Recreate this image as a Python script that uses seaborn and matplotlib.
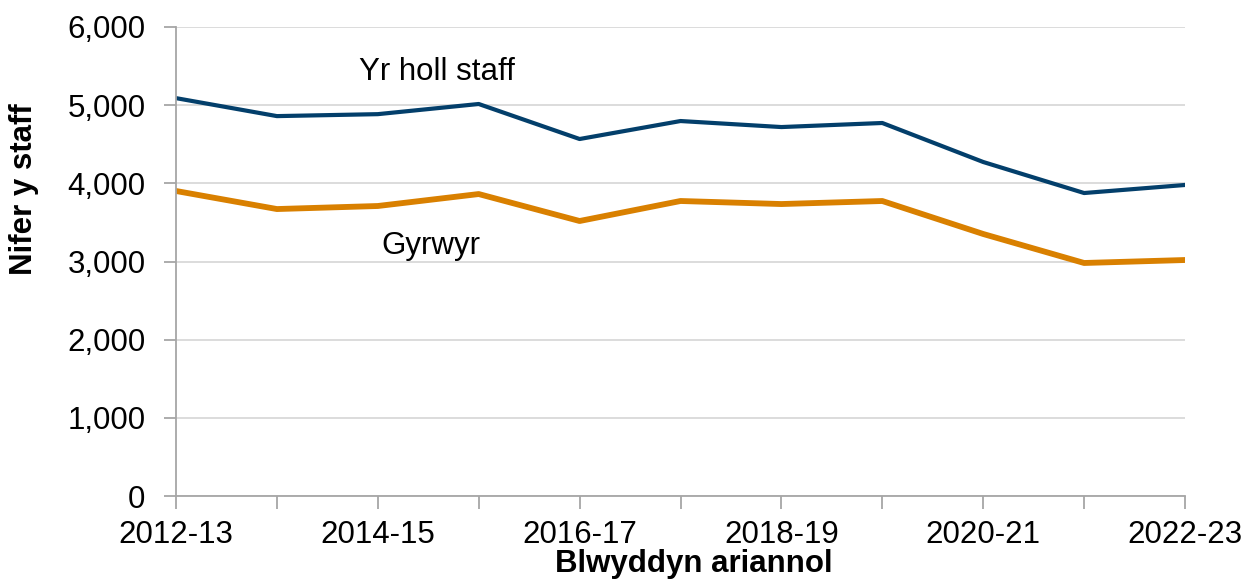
import matplotlib
matplotlib.use("Agg")
import matplotlib.pyplot as plt
import seaborn as sns
import pandas as pd
from matplotlib.ticker import FuncFormatter, MultipleLocator

years = ["2012-13", "2013-14", "2014-15", "2015-16", "2016-17", "2017-18",
         "2018-19", "2019-20", "2020-21", "2021-22", "2022-23"]
all_staff = [5090, 4860, 4885, 5015, 4567, 4797, 4720, 4772, 4273, 3876, 3979]
drivers = [3902, 3671, 3710, 3863, 3518, 3774, 3735, 3774, 3352, 2981, 3019]
series_names = ["Yr holl staff", "Gyrwyr"]
tick_labels = ["2012-13", "", "2014-15", "", "2016-17", "", "2018-19", "", "2020-21", "", "2022-23"]

sns.set_theme(style="white")
plt.rcParams["font.family"] = ["Liberation Sans", "DejaVu Sans"]
plt.rcParams["text.color"] = "black"
plt.rcParams["axes.labelcolor"] = "black"
FS = 22.5

df = pd.DataFrame({
    "idx": list(range(len(years))) * 2,
    "value": all_staff + drivers,
    "series": [series_names[0]] * len(years) + [series_names[1]] * len(years),
})

fig = plt.figure(figsize=(12.52, 5.86), dpi=100)
ax = fig.add_axes([176/1252, 1 - 496/586, (1185-176)/1252, (496-27)/586])

colors = {"Yr holl staff": "#033f6b", "Gyrwyr": "#d98000"}
sns.lineplot(data=df, x="idx", y="value", hue="series", palette=colors,
             ax=ax, legend=False, estimator=None)
for line, lw in zip(ax.lines, [3.0, 4.2]):
    line.set_linewidth(lw)
    line.set_solid_capstyle("round")

ax.set_xlim(0, len(years) - 1)
ax.set_ylim(0, 6000)
ax.yaxis.set_major_locator(MultipleLocator(1000))
ax.yaxis.set_major_formatter(FuncFormatter(lambda v, p: f"{int(v):,}"))
ax.set_xticks(range(len(years)))
ax.set_xticklabels(tick_labels)

ax.grid(axis="y", color="#d9d9d9", linewidth=1.3)
ax.set_axisbelow(True)
for s in ["top", "right"]:
    ax.spines[s].set_visible(False)
for s in ["left", "bottom"]:
    ax.spines[s].set_color("#a6a6a6")
    ax.spines[s].set_linewidth(1.3)

ax.tick_params(axis="both", which="major", direction="out", length=9, width=1.3,
               color="#a6a6a6", labelsize=FS, labelcolor="black",
               bottom=True, left=True)
ax.tick_params(axis="x", pad=8.5)
ax.tick_params(axis="y", pad=13)

ax.set_xlabel("Blwyddyn ariannol", fontsize=FS, fontweight="bold")
ax.set_ylabel("Nifer y staff", fontsize=FS, fontweight="bold")
ax.yaxis.set_label_coords(-0.136, 0.655)
ax.xaxis.set_label_coords(0.513, -0.114)

ax.text(1.81, 5420, series_names[0], fontsize=FS, ha="left", va="center")
ax.text(2.04, 3200, series_names[1], fontsize=FS, ha="left", va="center")

fig.savefig("out.png", dpi=100)
